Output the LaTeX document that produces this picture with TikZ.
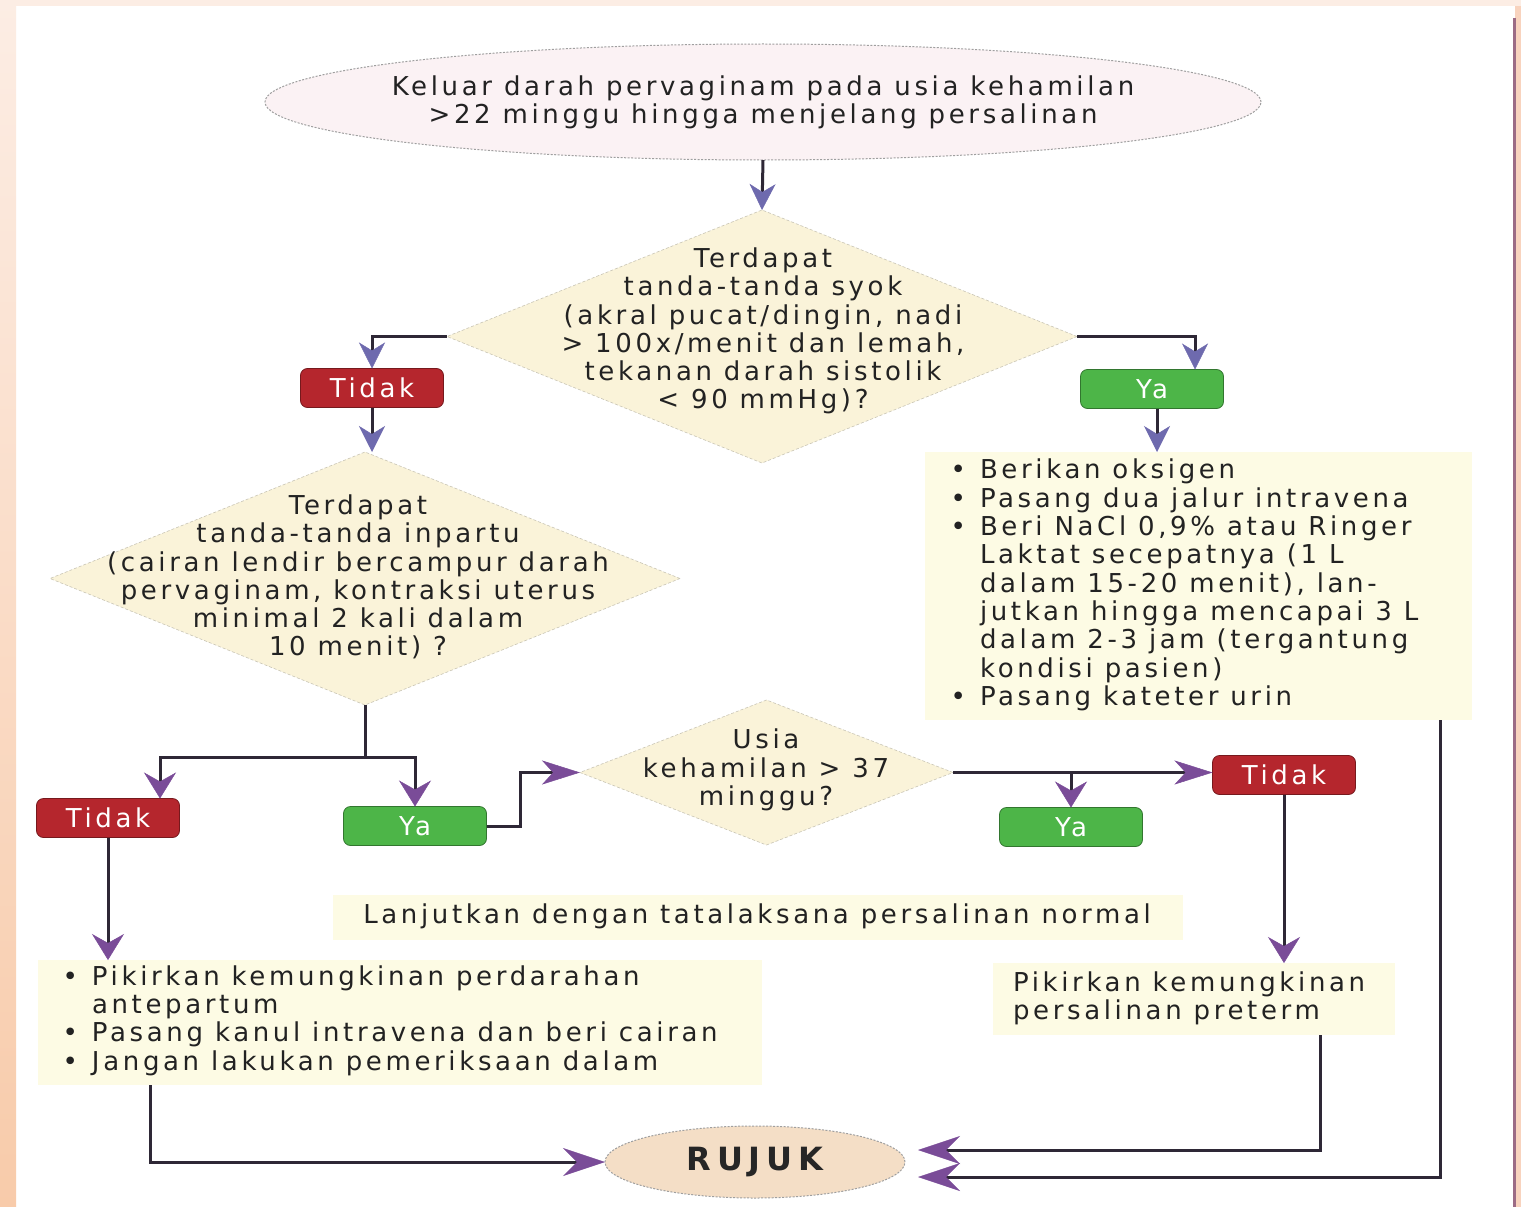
\documentclass[tikz,border=0pt]{standalone}
\usepackage{fontspec}
\setmainfont{DejaVu Sans}[LetterSpace=14]
\usetikzlibrary{arrows.meta,shapes.geometric}
\definecolor{linec}{HTML}{2E2836}
\definecolor{arrblue}{HTML}{6E6AAE}
\definecolor{arrpurp}{HTML}{7A4C98}
\definecolor{diafill}{HTML}{FAF3D9}
\definecolor{boxfill}{HTML}{FDFBE4}
\definecolor{topfill}{HTML}{FBF2F4}
\definecolor{rujfill}{HTML}{F4DEC6}
\definecolor{redbox}{HTML}{B5262D}
\definecolor{greenbox}{HTML}{4DB548}
\definecolor{txt}{HTML}{222222}
\definecolor{peach}{HTML}{F8CBAA}
\definecolor{peachlt}{HTML}{FCEDE4}
\definecolor{rightline}{HTML}{9C6B85}
\definecolor{rightpeach}{HTML}{F8D3BE}
\begin{document}
\begin{tikzpicture}[x=1pt,y=-1pt,
  every node/.style={inner sep=0pt, outer sep=0pt},
  body/.style={font=\fontsize{26}{28.3}\selectfont, text=txt},
  dia/.style={diamond, fill=diafill, draw=diafill!60!gray, dash pattern=on 3pt off 2pt, line width=0.6pt},
  ovalbox/.style={ellipse, draw=gray!75, dash pattern=on 2pt off 1.5pt, line width=1pt},
  infobox/.style={fill=boxfill},
  decbox/.style={rounded corners=7pt, minimum width=143pt, minimum height=39pt,
    draw=#1!65!black, line width=0.8pt, fill=#1, text=white,
    font=\fontsize{26}{28}\selectfont},
  conn/.style={draw=linec, line width=3pt},
  arA/.style={conn, -{Stealth[length=26pt,width=26pt,inset=8pt,line width=0.5pt,color=arrblue]}},
  arB/.style={conn, -{Stealth[length=26pt,width=32pt,inset=9pt,line width=0.5pt,color=arrpurp]}},
  arH/.style={conn, -{Stealth[length=38pt,width=24pt,inset=11pt,line width=0.5pt,color=arrpurp]}},
  arC/.style={conn, -{Stealth[length=42pt,width=28pt,inset=14pt,line width=0.5pt,color=arrpurp]}}
]
\useasboundingbox (0,0) rectangle (1521,1207);
% background
\fill[white] (0,0) rectangle (1521,1207);
\shade[top color=peachlt, bottom color=peach] (0,0) rectangle (16,1207);
\fill[peachlt] (0,0) rectangle (1521,6);
\fill[rightpeach] (1515,6) rectangle (1521,1207);
\draw[line width=3pt, rightline] (1514,18) -- (1514,1207);

% top ellipse
\node[ovalbox, fill=topfill, minimum width=996pt, minimum height=116pt] (top) at (763,102) {};
\node[body, align=center] (topt) at (763,102) {Keluar darah pervaginam pada usia kehamilan\\ >22 minggu hingga menjelang persalinan};

% diamond 1
\node[dia, minimum width=630pt, minimum height=253pt] (d1) at (762,336.5) {};
\node[body, align=center] (d1t) at (763,331) {Terdapat\\ tanda-tanda syok\\ (akral pucat/dingin, nadi\\ > 100x/menit dan lemah,\\ tekanan darah sistolik\\ < 90 mmHg)?};

\node[decbox=redbox] (t1) at (372,388) {Tidak};
\node[decbox=greenbox] (ya1) at (1152,389) {Ya};

% list 1
\node[infobox, minimum width=547pt, minimum height=268pt] (l1) at (1198.5,586) {};
\node[body, align=left, anchor=west] (l1t) at (980,585) {\llap{•\hspace{14pt}}Berikan oksigen\\
\llap{•\hspace{14pt}}Pasang dua jalur intravena\\
\llap{•\hspace{14pt}}Beri NaCl 0,9\% atau Ringer\\
Laktat secepatnya (1 L\\
dalam 15-20 menit), lan-\\
jutkan hingga mencapai 3 L\\
dalam 2-3 jam (tergantung\\
kondisi pasien)\\
\llap{•\hspace{14pt}}Pasang kateter urin};

% diamond 2
\node[dia, minimum width=630pt, minimum height=253pt] (d2) at (365,578.5) {};
\node[body, align=center] (d2t) at (358,577) {Terdapat\\ tanda-tanda inpartu\\ (cairan lendir bercampur darah\\ pervaginam, kontraksi uterus\\ minimal 2 kali dalam\\ 10 menit) ?};

\node[decbox=redbox] (t2) at (108,818) {Tidak};
\node[decbox=greenbox] (ya2) at (415,826) {Ya};

% diamond 3
\node[dia, minimum width=373pt, minimum height=145pt] (d3) at (766.5,772.5) {};
\node[body, align=center] (d3t) at (766,770) {Usia\\ kehamilan > 37\\ minggu?};

\node[decbox=redbox] (t3) at (1284,775) {Tidak};
\node[decbox=greenbox] (ya3) at (1071,827) {Ya};

% lanjutkan
\node[infobox, minimum width=850pt, minimum height=45pt] (lj) at (758,917.5) {};
\node[body] (ljt) at (757,916) {Lanjutkan dengan tatalaksana persalinan normal};

% preterm
\node[infobox, minimum width=402pt, minimum height=72pt] (pt) at (1194,999) {};
\node[body, align=left, anchor=west] (ptt) at (1013,998.5) {Pikirkan kemungkinan\\ persalinan preterm};

% list 2
\node[infobox, minimum width=724pt, minimum height=125pt] (l2) at (400,1022.5) {};
\node[body, align=left, anchor=west] (l2t) at (92,1020.5) {\llap{•\hspace{14pt}}Pikirkan kemungkinan perdarahan\\
antepartum\\
\llap{•\hspace{14pt}}Pasang kanul intravena dan beri cairan\\
\llap{•\hspace{14pt}}Jangan lakukan pemeriksaan dalam};

% rujuk
\node[ovalbox, fill=rujfill, minimum width=300pt, minimum height=72pt] (rujuk) at (755,1162) {};
\node[font=\bfseries\fontsize{32}{34}\selectfont\addfontfeature{LetterSpace=18}, text=black!85] (rujukt) at (755,1162) {RUJUK};

% connectors
\draw[arA] (top.south) -- (d1.north);
\draw[arA] (d1.west) -| (t1.north);
\draw[arA] (t1.south) -- (t1.south |- d2.north);
\draw[arA] (d1.east) -| ([xshift=43pt]ya1.north);
\draw[arA] ([xshift=5pt]ya1.south) -- ([xshift=5pt]ya1.south |- l1.north);
\draw[conn] (d2.south) -- ++(0,52) coordinate (sp);
\draw[arB] (sp) -| ([xshift=52pt]t2.north);
\draw[arB] (sp) -| (ya2.north);
\draw[arH] (ya2.east) -- ++(34,0) |- (d3.west);
\draw[arH] (d3.east) -- (d3.east -| t3.west);
\draw[arB] (d3.east -| ya3.north) -- (ya3.north);
\draw[arB] (t3.south) -- (t3.south |- pt.north);
\draw[arB] (t2.south) -- (t2.south |- l2.north);
\draw[arC] ([xshift=112pt]l2.south west) |- (rujuk.west);
\draw[arC] ([xshift=-75pt]pt.south east) |- ([xshift=13pt,yshift=12pt]rujuk.east);
\draw[arC] ([xshift=-32pt]l1.south east) |- ([xshift=13pt,yshift=-15pt]rujuk.east);
\end{tikzpicture}
\end{document}
